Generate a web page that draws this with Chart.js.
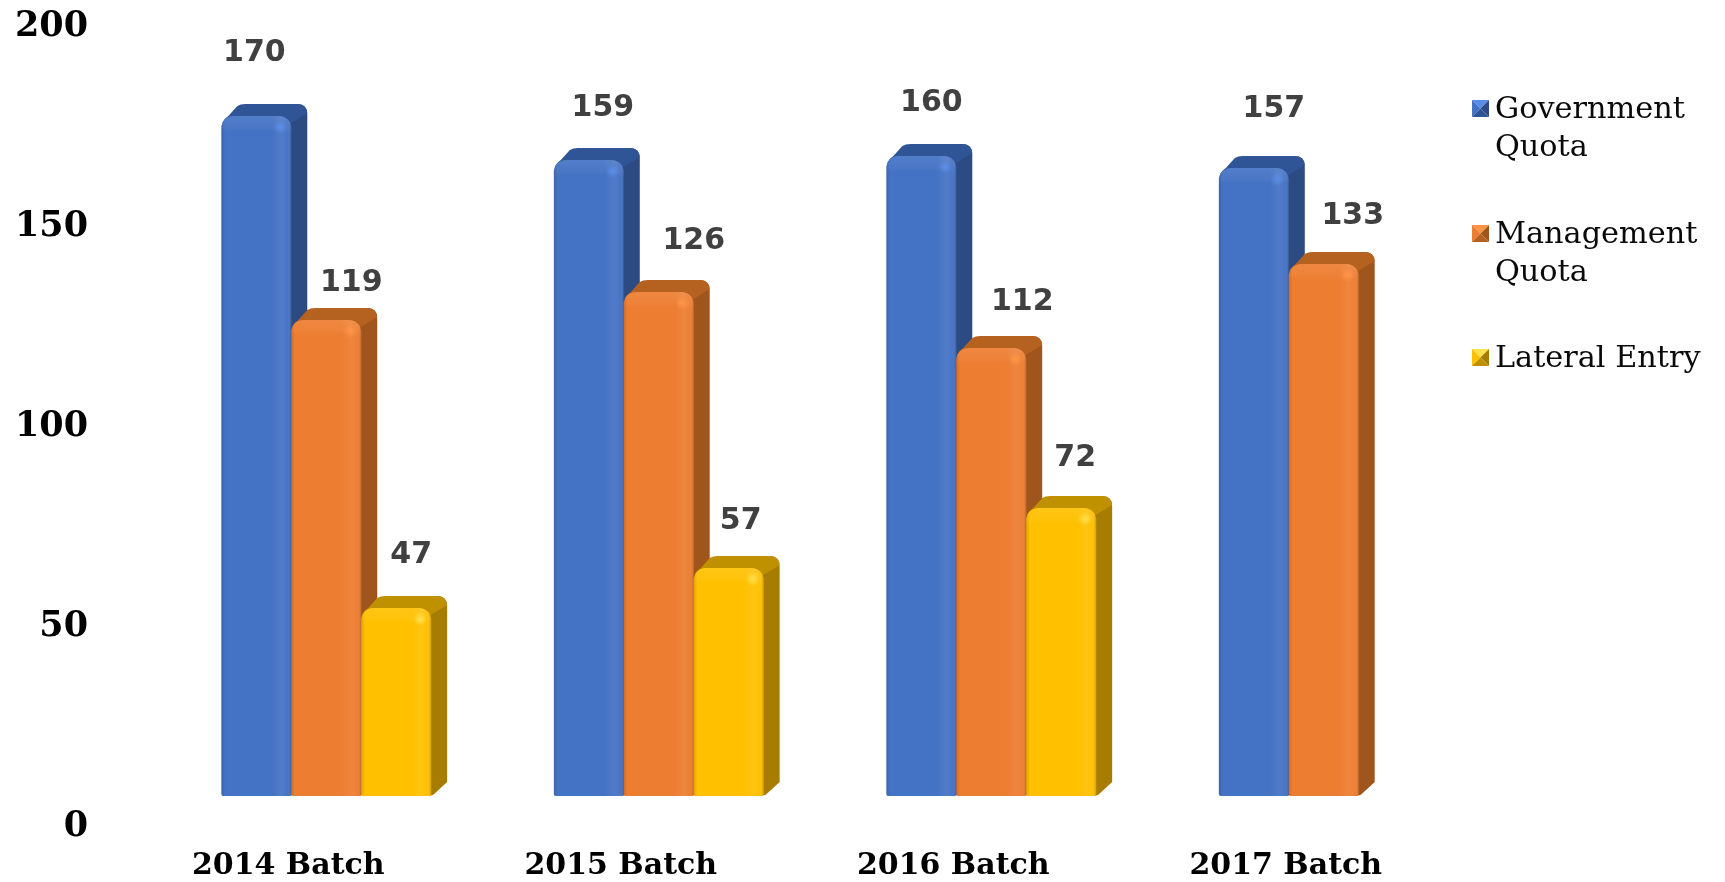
<!DOCTYPE html>
<html>
<head>
<meta charset="utf-8">
<title>Batch intake</title>
<script src="https://cdn.jsdelivr.net/npm/chart.js@4"></script>
<style>
  html, body { margin: 0; padding: 0; background: #fff; overflow: hidden; width: 1725px; height: 882px; }
  #chart { position: absolute; left: 0; top: -4px; }
</style>
</head>
<body>
<canvas id="chart" width="1725" height="890"></canvas>
<script>
const categories = ["2014 Batch", "2015 Batch", "2016 Batch", "2017 Batch"];
const governmentQuota = [170, 159, 160, 157];
const managementQuota = [119, 126, 112, 133];
const lateralEntry = [47, 57, 72, null];
const yTicks = [0, 50, 100, 150, 200];

// value labels sit off the bars in the original, each nudged by hand: [dx, dy]
const governmentNudge = [[-2, -63], [14, -52], [10, -53], [20, -59]];
const managementNudge = [[25, -37], [35, -51], [31, -46], [29, -48]];
const lateralNudge = [[15, -53], [12, -47], [14, -50], null];

const serif = '"DejaVu Serif", serif';
const depthX = 16, depthY = 12;

const series = [
  { label: "Government Quota", lines: ["Government", "Quota"], data: governmentQuota, nudge: governmentNudge,
    front: "#4472C4", top: "#2F5597", side: "#2B4B82", light: "#5B8DE8", legendY: 118 },
  { label: "Management Quota", lines: ["Management", "Quota"], data: managementQuota, nudge: managementNudge,
    front: "#ED7D31", top: "#B5611F", side: "#A0551C", light: "#FF9545", legendY: 243 },
  { label: "Lateral Entry", lines: ["Lateral Entry"], data: lateralEntry, nudge: lateralNudge,
    front: "#FFC000", top: "#BF9000", side: "#A67D00", light: "#FFE14D", legendY: 367 }
];

function frontPath(ctx, b) {
  const x0 = b.x - b.width / 2, x1 = b.x + b.width / 2;
  ctx.beginPath();
  ctx.roundRect(x0, b.y, x1 - x0, b.base - b.y, [12, 12, 2, 2]);
}

function drawDepth(ctx, s, b) {
  const x0 = b.x - b.width / 2, x1 = b.x + b.width / 2;
  ctx.fillStyle = s.side;
  ctx.beginPath();
  ctx.moveTo(x1 - 8, b.base);
  ctx.quadraticCurveTo(x1 + 1, b.base, x1 + 3, b.base - 2);
  ctx.lineTo(x1 + depthX, b.base - depthY - 2);
  ctx.lineTo(x1 + depthX, b.y - depthY + 10);
  ctx.quadraticCurveTo(x1 + depthX, b.y - depthY, x1 + depthX - 10, b.y - depthY);
  ctx.lineTo(x1 - 6, b.y);
  ctx.closePath();
  ctx.fill();
  ctx.fillStyle = s.top;
  ctx.beginPath();
  ctx.moveTo(x0 + 1, b.y + 8);
  ctx.quadraticCurveTo(x0 + 2, b.y + 3, x0 + 7, b.y);
  ctx.lineTo(x0 + depthX, b.y - depthY + 2);
  ctx.quadraticCurveTo(x0 + depthX + 3, b.y - depthY, x0 + depthX + 8, b.y - depthY);
  ctx.lineTo(x1 + depthX - 10, b.y - depthY);
  ctx.quadraticCurveTo(x1 + depthX - 1, b.y - depthY, x1 + depthX, b.y - depthY + 9);
  ctx.lineTo(x1 - 2, b.y + 8);
  ctx.closePath();
  ctx.fill();
}

function drawBevel(ctx, s, b) {
  const x0 = b.x - b.width / 2, w = b.width;
  ctx.save();
  frontPath(ctx, b);
  ctx.clip();
  const g = ctx.createLinearGradient(x0, 0, x0 + w, 0);
  g.addColorStop(0, "rgba(0,0,0,0.14)");
  g.addColorStop(0.05, "rgba(0,0,0,0)");
  g.addColorStop(0.72, "rgba(255,255,255,0)");
  g.addColorStop(0.86, "rgba(255,255,255,0.07)");
  g.addColorStop(0.95, "rgba(255,255,255,0.02)");
  g.addColorStop(1, "rgba(0,0,0,0.2)");
  ctx.fillStyle = g;
  ctx.fillRect(x0, b.y, w, b.base - b.y);
  const t = ctx.createLinearGradient(0, b.y, 0, b.y + 16);
  t.addColorStop(0, "rgba(255,255,255,0.08)");
  t.addColorStop(0.7, "rgba(255,255,255,0.04)");
  t.addColorStop(1, "rgba(255,255,255,0)");
  ctx.fillStyle = t;
  ctx.fillRect(x0, b.y, w, 16);
  const spot = ctx.createRadialGradient(x0 + w - 11, b.y + 11, 0, x0 + w - 11, b.y + 11, 7);
  spot.addColorStop(0, s.light);
  spot.addColorStop(1, s.light + "00");
  ctx.fillStyle = spot;
  ctx.fillRect(x0 + w - 19, b.y + 3, 16, 16);
  ctx.restore();
}

const bars3d = {
  id: "bars3d",
  // the library paints the first series last; this look needs each bar over its left neighbour
  beforeDatasetDraw() { return false; },
  afterDatasetsDraw(chart) {
    const ctx = chart.ctx;
    series.forEach((s, si) => {
      const meta = chart.getDatasetMeta(si);
      ctx.save();
      meta.data.forEach((b, i) => { if (s.data[i] != null) drawDepth(ctx, s, b); });
      ctx.restore();
      meta.controller.draw();
      meta.data.forEach((b, i) => { if (s.data[i] != null) drawBevel(ctx, s, b); });
    });
  },
  afterDraw(chart) {
    const ctx = chart.ctx;
    ctx.save();
    // value labels
    ctx.font = 'bold 30px "DejaVu Sans", sans-serif';
    ctx.fillStyle = "#404040";
    ctx.textAlign = "center";
    ctx.textBaseline = "middle";
    series.forEach((s, si) => {
      chart.getDatasetMeta(si).data.forEach((b, i) => {
        if (s.data[i] == null) return;
        ctx.fillText(String(s.data[i]), b.x + s.nudge[i][0], b.y + s.nudge[i][1]);
      });
    });
    // legend, wrapped like the original; canvas is shifted up by 4px
    ctx.textAlign = "left";
    ctx.textBaseline = "alphabetic";
    ctx.font = "30.3px " + serif;
    series.forEach(s => {
      const sy = s.legendY + 4 - 18, sx = 1472, sz = 17, cx = sx + sz / 2, cy = sy + sz / 2;
      const tri = (color, ax, ay, bx, by) => {
        ctx.fillStyle = color;
        ctx.beginPath();
        ctx.moveTo(ax, ay);
        ctx.lineTo(bx, by);
        ctx.lineTo(cx, cy);
        ctx.closePath();
        ctx.fill();
      };
      tri(s.light, sx, sy, sx + sz, sy);
      tri(s.front, sx, sy, sx, sy + sz);
      tri(s.side, sx + sz, sy, sx + sz, sy + sz);
      tri(s.top, sx, sy + sz, sx + sz, sy + sz);
      ctx.fillStyle = "#0a0a0a";
      s.lines.forEach((line, k) => ctx.fillText(line, 1495, s.legendY + 4 + k * 38));
    });
    ctx.restore();
  }
};

new Chart(document.getElementById("chart"), {
  type: "bar",
  data: {
    labels: categories,
    datasets: series.map(s => ({
      label: s.label,
      data: s.data,
      backgroundColor: s.front,
      categoryPercentage: 0.631,
      barPercentage: 1,
      borderSkipped: false,
      borderRadius: { topLeft: 12, topRight: 12, bottomLeft: 2, bottomRight: 2 }
    }))
  },
  plugins: [bars3d],
  options: {
    responsive: false,
    animation: false,
    layout: { padding: { top: 0, right: 235, bottom: 0, left: 0 } },
    plugins: { legend: { display: false }, tooltip: { enabled: false } },
    scales: {
      x: {
        border: { display: false },
        grid: { display: false, drawTicks: false },
        afterFit(scale) { scale.height = 90; scale.paddingLeft = 0; scale.paddingRight = 0; },
        ticks: {
          autoSkip: false,
          maxRotation: 0,
          padding: 52,
          labelOffset: -38,
          color: "#000",
          font: { family: serif, size: 30, weight: "bold" }
        }
      },
      y: {
        min: 0,
        max: 200,
        border: { display: false },
        grid: { display: false, drawTicks: false },
        afterFit(scale) { scale.width = 160; scale.paddingTop = 0; scale.paddingBottom = 0; },
        afterBuildTicks(scale) { scale.ticks = yTicks.map(v => ({ value: v })); },
        ticks: {
          padding: 72,
          labelOffset: 31,
          color: "#000",
          font: { family: serif, size: 35, weight: "bold" }
        }
      }
    }
  }
});
</script>
</body>
</html>
